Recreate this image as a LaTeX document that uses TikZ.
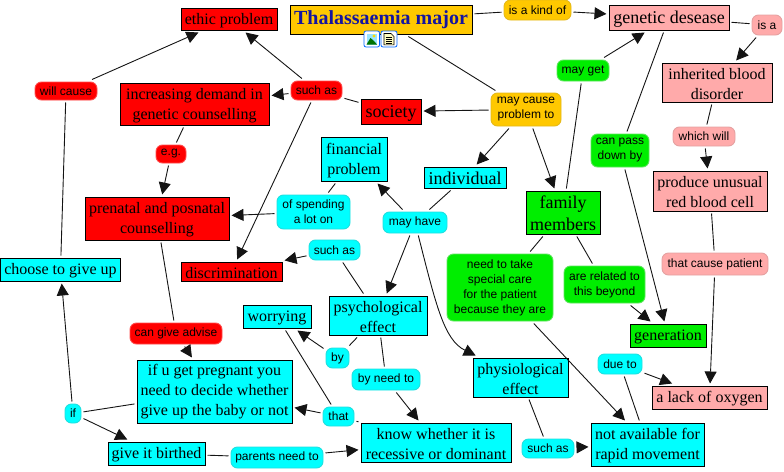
\documentclass[tikz,border=0pt]{standalone}
\usepackage{fontspec}
\setmainfont{Liberation Serif}
\setsansfont{Liberation Sans}
\usetikzlibrary{arrows.meta}
\definecolor{corange}{HTML}{FFC800}
\definecolor{cred}{HTML}{FF0000}
\definecolor{ccyan}{HTML}{00FFFF}
\definecolor{cgreen}{HTML}{00EE00}
\definecolor{cpink}{HTML}{FFAAAA}
\definecolor{ctitle}{HTML}{1414A0}
\tikzset{
  x=1pt,y=-1pt,
  concept/.style={draw=black,line width=0.9pt,inner sep=0pt,outer sep=2.5pt,align=center,
    font=\fontsize{16}{20}\selectfont,execute at begin node={\rule{0pt}{14pt}}},
  twolines/.style={concept,execute at begin node={\rule{0pt}{34pt}}},
  bigger/.style={font=\fontsize{18}{22}\selectfont,execute at begin node={\rule{0pt}{15pt}}},
  linker/.style={rounded corners=6.5pt,line width=0.9pt,inner sep=0pt,outer sep=2.5pt,align=center,
    font=\sffamily\fontsize{12}{15}\selectfont},
  linkorange/.style={linker,fill=corange,draw=corange!80!gray},
  linkred/.style={linker,fill=cred,draw=cred!70!white},
  linkcyan/.style={linker,fill=ccyan,draw=ccyan!75!gray},
  linkgreen/.style={linker,fill=cgreen,draw=cgreen!80!gray!70!white},
  linkpink/.style={linker,fill=cpink,draw=cpink!80!gray},
  plain/.style={draw=black!92,line width=0.9pt},
  arrow/.style={plain,-{Triangle[length=12pt,width=12pt]}},
  iconframe/.style={draw=blue!60!cyan,fill=white,line width=0.8pt,rounded corners=2pt},
}
\begin{document}
\begin{tikzpicture}
\useasboundingbox (0,0) rectangle (784,471);
% concepts
\node[concept,fill=corange,minimum width=182,minimum height=29,text=ctitle,font=\bfseries\fontsize{20}{24}\selectfont,execute at begin node={}] (thal) at (381,19.5) {Thalassaemia major};
\node[concept,fill=cred,minimum width=96,minimum height=22] (ethic) at (229,19) {ethic problem};
\node[concept,bigger,fill=cpink,minimum width=120,minimum height=25] (genetic) at (669,17.5) {genetic desease};
\node[twolines,fill=cpink,minimum width=110,minimum height=39] (inherited) at (717,82.5) {inherited blood\\disorder};
\node[twolines,fill=cpink,minimum width=114,minimum height=40] (produce) at (710,191) {produce unusual\\red blood cell};
\node[concept,fill=cpink,minimum width=115,minimum height=23] (lack) at (709.5,397.5) {a lack of oxygen};
\node[concept,fill=cgreen,minimum width=76,minimum height=23] (generation) at (668,335.5) {generation};
\node[concept,fill=cgreen,font=\fontsize{18}{22}\selectfont,execute at begin node={\rule{0pt}{37pt}},minimum width=74,minimum height=43] (family) at (563,212.5) {family\\members};
\node[concept,bigger,fill=ccyan,minimum width=82,minimum height=21] (individual) at (465,177.5) {individual};
\node[twolines,fill=ccyan,minimum width=66,minimum height=44] (financial) at (354,159) {financial\\problem};
\node[concept,bigger,fill=cred,minimum width=60,minimum height=25] (society) at (391,111.5) {society};
\node[twolines,fill=cred,minimum width=149,minimum height=42] (increasing) at (194.5,104) {increasing demand in\\genetic counselling};
\node[twolines,fill=cred,minimum width=144,minimum height=43] (prenatal) at (157,218.5) {prenatal and posnatal\\counselling};
\node[concept,fill=cred,minimum width=101,minimum height=19] (discrimination) at (231.5,271.5) {discrimination};
\node[concept,fill=ccyan,minimum width=120,minimum height=23] (choose) at (60.5,269.5) {choose to give up};
\node[twolines,fill=ccyan,minimum width=98,minimum height=39] (psych) at (378,315.5) {psychological\\effect};
\node[concept,fill=ccyan,minimum width=68,minimum height=23] (worrying) at (277,316.5) {worrying};
\node[twolines,fill=ccyan,minimum width=95,minimum height=39] (physio) at (520.5,377.5) {physiological\\effect};
\node[concept,fill=ccyan,minimum width=155,minimum height=63] (ifu) at (214.5,391.5) {if u get pregnant you\\need to decide whether\\give up the baby or not};
\node[concept,fill=ccyan,minimum width=97,minimum height=23] (birthed) at (156.5,453.5) {give it birthed};
\node[twolines,fill=ccyan,minimum width=150,minimum height=39] (know) at (436,442.5) {know whether it is\\recessive or dominant};
\node[twolines,fill=ccyan,minimum width=113,minimum height=43] (notavail) at (647.5,444.5) {not available for\\rapid movement};
% linking phrases
\node[linkorange,minimum width=67,minimum height=20] (iskind) at (537.5,10) {is a kind of};
\node[linkpink,minimum width=30,minimum height=20] (isa) at (767,25) {is a};
\node[linkgreen,minimum width=52,minimum height=21] (mayget) at (583,70.5) {may get};
\node[linkorange,minimum width=70,minimum height=33] (maycause) at (526,109.5) {may cause\\problem to};
\node[linkgreen,minimum width=58,minimum height=33] (canpass) at (620,150.5) {can pass\\down by};
\node[linkpink,minimum width=62,minimum height=19] (whichwill) at (704,136.5) {which will};
\node[linkpink,minimum width=106,minimum height=22] (thatcause) at (715,264) {that cause patient};
\node[linkgreen,minimum width=106,minimum height=67] (need) at (500,287.5) {need to take\\special care\\for the patient\\because they are};
\node[linkgreen,minimum width=81,minimum height=37] (related) at (604.5,284.5) {are related to\\this beyond};
\node[linkred,minimum width=51,minimum height=19] (suchred) at (316.5,90.5) {such as};
\node[linkred,minimum width=62,minimum height=18] (willcause) at (66,91) {will cause};
\node[linkred,minimum width=30,minimum height=18] (eg) at (171,154) {e.g.};
\node[linkcyan,minimum width=73,minimum height=34] (spending) at (313.5,212) {of spending\\a lot on};
\node[linkcyan,minimum width=64,minimum height=21] (mayhave) at (415,222.5) {may have};
\node[linkcyan,minimum width=51,minimum height=20] (suchcyan) at (334.5,250) {such as};
\node[linkred,minimum width=92,minimum height=21] (cangive) at (176,333.5) {can give advise};
\node[linkcyan,minimum width=23,minimum height=20] (by) at (337.5,358) {by};
\node[linkcyan,minimum width=68,minimum height=21] (byneed) at (386,379.5) {by need to};
\node[linkcyan,minimum width=31,minimum height=19] (that) at (338.5,416.5) {that};
\node[linkcyan,minimum width=16,minimum height=19] (ifl) at (73,413.5) {if};
\node[linkcyan,minimum width=92,minimum height=21] (parents) at (277,457.5) {parents need to};
\node[linkcyan,minimum width=52,minimum height=19] (suchphys) at (548,448.5) {such as};
\node[linkcyan,minimum width=44,minimum height=20] (dueto) at (620,364) {due to};
% connectors
\draw[plain] (thal) -- (iskind);
\draw[arrow] (iskind) -- (genetic);
\draw[plain] (genetic) -- (isa);
\draw[arrow] (isa) -- (inherited);
\draw[plain] (inherited) -- (whichwill);
\draw[arrow] (whichwill) -- (produce);
\draw[plain] (produce) -- (thatcause);
\draw[arrow] (thatcause) -- (lack);
\draw[plain] (genetic) -- (canpass);
\draw[arrow] (canpass) -- (generation);
\draw[plain] (thal) -- (maycause);
\draw[arrow] (maycause) -- (society);
\draw[arrow] (maycause) -- (individual);
\draw[arrow] (maycause) -- (family);
\draw[plain] (society) -- (suchred);
\draw[arrow] (suchred) -- (ethic);
\draw[arrow] (suchred) -- (increasing);
\draw[arrow] (suchred) -- (discrimination);
\draw[plain] (increasing) -- (eg);
\draw[arrow] (eg) -- (prenatal);
\draw[plain] (prenatal) -- (cangive);
\draw[arrow] (cangive) -- (ifu);
\draw[plain] (ifu) -- (ifl);
\draw[arrow] (ifl) -- (choose);
\draw[arrow] (ifl) -- (birthed);
\draw[plain] (choose) -- (willcause);
\draw[arrow] (willcause) -- (ethic);
\draw[plain] (birthed) -- (parents);
\draw[arrow] (parents) -- (know);
\draw[plain] (individual) -- (mayhave);
\draw[arrow] (mayhave) -- (financial);
\draw[arrow] (mayhave) -- (psych);
\draw[arrow] (mayhave) .. controls (436,305) and (444,340) .. (physio);
\draw[plain] (financial) -- (spending);
\draw[arrow] (spending) -- (prenatal);
\draw[plain] (psych) -- (suchcyan);
\draw[arrow] (suchcyan) -- (discrimination);
\draw[plain] (psych) -- (by);
\draw[arrow] (by) -- (worrying);
\draw[plain] (psych) -- (byneed);
\draw[arrow] (byneed) -- (know);
\draw[plain] (worrying) -- (that);
\draw[plain] (know) -- (that);
\draw[arrow] (that) -- (ifu);
\draw[plain] (physio) -- (suchphys);
\draw[arrow] (suchphys) -- (notavail);
\draw[plain] (notavail) -- (dueto);
\draw[arrow] (dueto) -- (lack);
\draw[plain] (family) -- (mayget);
\draw[arrow] (mayget) -- (genetic);
\draw[plain] (family) -- (need);
\draw[arrow] (need) -- (notavail);
\draw[plain] (family) -- (related);
\draw[arrow] (related) -- (generation);
% icons under the title
\draw[iconframe] (364,31) rectangle (379.5,47);
\fill[blue!25!cyan!40] (366.5,33.5) rectangle (377,44.5);
\fill[green!45!black] (366.5,44.5) -- (370.5,38) -- (374,41) -- (377,44.5) -- cycle;
\fill[yellow!80!orange] (374,36) circle (1.7);
\draw[iconframe] (381,31) rectangle (397,47);
\draw[fill=yellow!25,draw=black,line width=0.6pt] (384,33.5) -- (391,33.5) -- (394,36.5) -- (394,44.8) -- (384,44.8) -- cycle;
\draw[black,line width=0.6pt] (385.8,37) -- (392,37) (385.8,39.2) -- (392,39.2) (385.8,41.4) -- (392,41.4) (385.8,43.4) -- (392,43.4);
\end{tikzpicture}
\end{document}
